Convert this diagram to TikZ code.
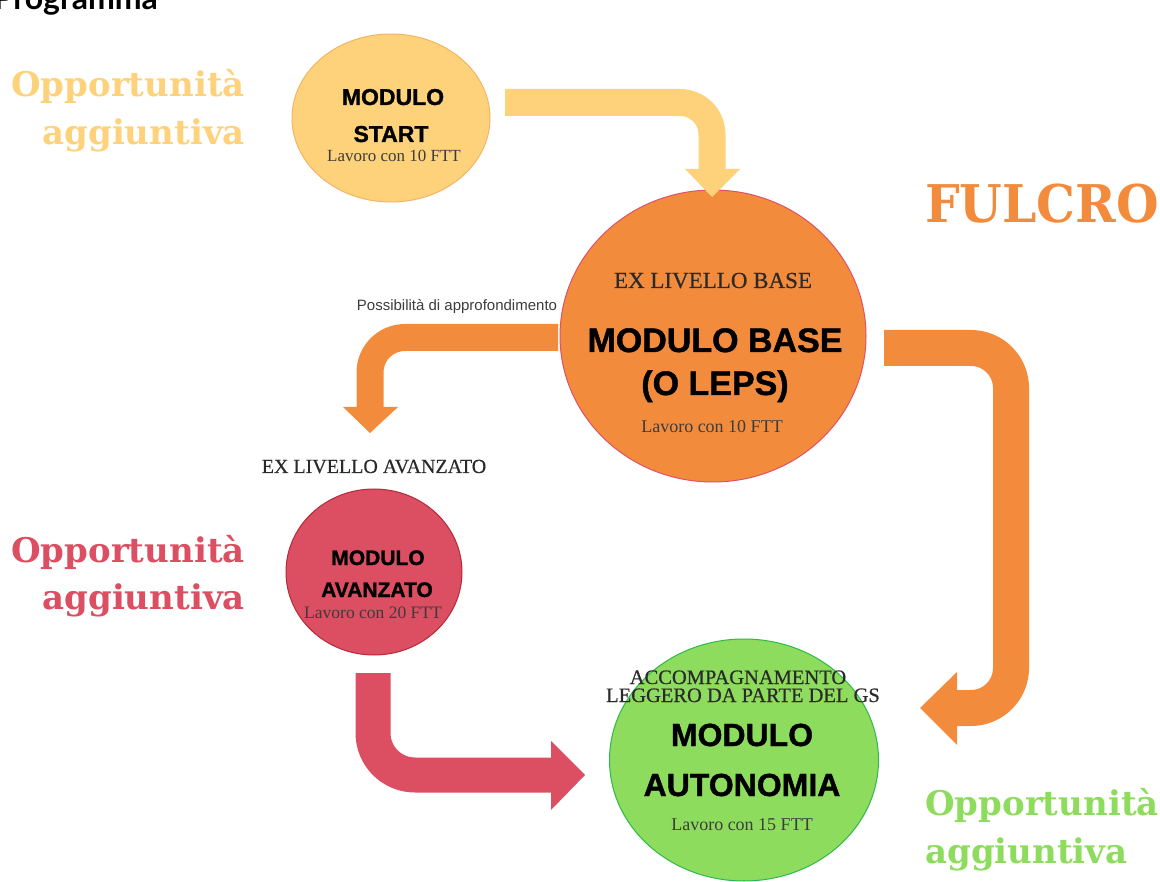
\documentclass[tikz,border=0pt]{standalone}
\usepackage{fontspec}
\setmainfont{Liberation Serif}
\newfontfamily\headsans[FakeBold=1.2]{Liberation Sans}
\newfontfamily\plainsans{Liberation Sans}
\newfontfamily\exfont[FakeBold=0.5]{Liberation Serif}
\newfontfamily\oppfont{DejaVu Serif}
\newfontfamily\progfont{Lato}
\usetikzlibrary{shapes.geometric}
\newcommand\setfs[1]{\fontsize{#1}{#1}\selectfont}
\definecolor{cyel}{HTML}{FDD27B}
\definecolor{cyelb}{HTML}{F5B464}
\definecolor{corg}{HTML}{F28C3C}
\definecolor{corgb}{HTML}{E0506A}
\definecolor{cred}{HTML}{DC4E61}
\definecolor{credb}{HTML}{B52A3A}
\definecolor{cgrn}{HTML}{8EDC5E}
\definecolor{cgrnb}{HTML}{2DB84A}
\definecolor{cgrey}{HTML}{3C3C3C}
\definecolor{cdark}{HTML}{2A2A2A}
\tikzset{
  modcircle/.style={ellipse, inner sep=0pt, line width=1pt},
  title/.style={anchor=base, inner sep=0pt, text=black},
  work/.style={anchor=base, inner sep=0pt, text=cgrey},
  exlabel/.style={anchor=base, inner sep=0pt, text=cdark},
  opp/.style={inner sep=0pt, font=\oppfont\bfseries\setfs{34}},
  fatarrow/.style={line cap=butt, line join=round},
}
\begin{document}
\begin{tikzpicture}[x=1pt,y=-1pt]
\useasboundingbox (0,0) rectangle (1160,882);
\clip (0,0) rectangle (1160,882);

% Title (cut at top)
\node[anchor=base east, inner sep=0pt, font=\progfont\bfseries\setfs{32}] (prog) at (158,10) {Programma};

% Circles
\node[modcircle, draw=cyelb, fill=cyel, minimum width=198pt, minimum height=168pt] (start) at (391,118) {};
\node[modcircle, draw=corgb, fill=corg, minimum width=306pt, minimum height=292pt] (base) at (713,336) {};
\node[modcircle, draw=credb, fill=cred, minimum width=176pt, minimum height=166pt] (avz) at (374,572) {};
\node[modcircle, draw=cgrnb, fill=cgrn, minimum width=269pt, minimum height=242pt] (auto) at (744,760) {};

% Arrows
\coordinate (y1) at (505,102.5);
\coordinate (y2) at (712,170);
\draw[fatarrow, cyel, line width=27pt, rounded corners=32pt] (y1) -| (y2);
\fill[cyel] (685,169) -- (740,169) -- (712,197) -- cycle;

\coordinate (o1) at (558,337.5);
\coordinate (o2) at (370,408);
\draw[fatarrow, corg, line width=27pt, rounded corners=35pt] (o1) -| (o2);
\fill[corg] (343,407) -- (398,407) -- (370,433) -- cycle;

\coordinate (r1) at (884,348);
\coordinate (r2) at (1011,348);
\coordinate (r3) at (1011,708);
\coordinate (r4) at (956,708);
\draw[fatarrow, corg, line width=36pt, rounded corners=40pt] (r1) -- (r2) -- (r3) -- (r4);
\fill[corg] (957,672) -- (957,745) -- (920,708) -- cycle;

\coordinate (d1) at (373,673);
\coordinate (d2) at (552,775);
\draw[fatarrow, cred, line width=35pt, rounded corners=42pt] (d1) |- (d2);
\fill[cred] (551,741) -- (551,810) -- (585,775) -- cycle;

% START texts
\node[title, font=\headsans\bfseries\setfs{23}] (t1a) at (393,105) {MODULO};
\node[title, font=\headsans\bfseries\setfs{23}] (t1b) at (391,142) {START};
\node[work, font=\setfs{17}] (t1c) at (394,162) {Lavoro con 10 FTT};

% BASE texts
\node[exlabel, font=\exfont\setfs{23}] (t2x) at (713,288) {EX LIVELLO BASE};
\node[title, font=\headsans\bfseries\setfs{34}] (t2a) at (715,352) {MODULO BASE};
\node[title, font=\headsans\bfseries\setfs{34}] (t2b) at (715,395) {(O LEPS)};
\node[work, font=\setfs{18}] (t2c) at (712,433) {Lavoro con 10 FTT};
\node[anchor=base, inner sep=0pt, font=\plainsans\setfs{15}, text=cgrey] (poss) at (457,311) {Possibilità di approfondimento};

% AVANZATO texts
\node[exlabel, font=\exfont\setfs{20}] (t3x) at (374,473) {EX LIVELLO AVANZATO};
\node[title, font=\headsans\bfseries\setfs{21}] (t3a) at (378,565) {MODULO};
\node[title, font=\headsans\bfseries\setfs{21}] (t3b) at (377,597) {AVANZATO};
\node[work, font=\setfs{17.5}] (t3c) at (373,618) {Lavoro con 20 FTT};

% AUTONOMIA texts
\node[exlabel, font=\exfont\setfs{20.5}] (t4x) at (738,684) {ACCOMPAGNAMENTO};
\node[exlabel, font=\exfont\setfs{20.5}] (t4y) at (743,702) {LEGGERO DA PARTE DEL GS};
\node[title, font=\headsans\bfseries\setfs{32}] (t4a) at (742,746) {MODULO};
\node[title, font=\headsans\bfseries\setfs{32}] (t4b) at (742,796) {AUTONOMIA};
\node[work, font=\setfs{18}] (t4c) at (742,830) {Lavoro con 15 FTT};

% Side labels
\node[opp, anchor=base east, text=cyel] (oy1) at (245,97) {Opportunità};
\node[opp, anchor=base east, text=cyel] (oy2) at (245,145) {aggiuntiva};
\node[opp, anchor=base east, text=cred] (or1) at (245,562) {Opportunità};
\node[opp, anchor=base east, text=cred] (or2) at (245,609) {aggiuntiva};
\node[opp, anchor=base west, text=cgrn] (og1) at (925,815) {Opportunità};
\node[opp, anchor=base west, text=cgrn] (og2) at (925,863) {aggiuntiva};

\node[anchor=base west, inner sep=0pt, text=corg, font=\oppfont\bfseries\setfs{52}] (fulcro) at (925,223) {\scalebox{0.94}[1]{FULCRO}};
\end{tikzpicture}
\end{document}
